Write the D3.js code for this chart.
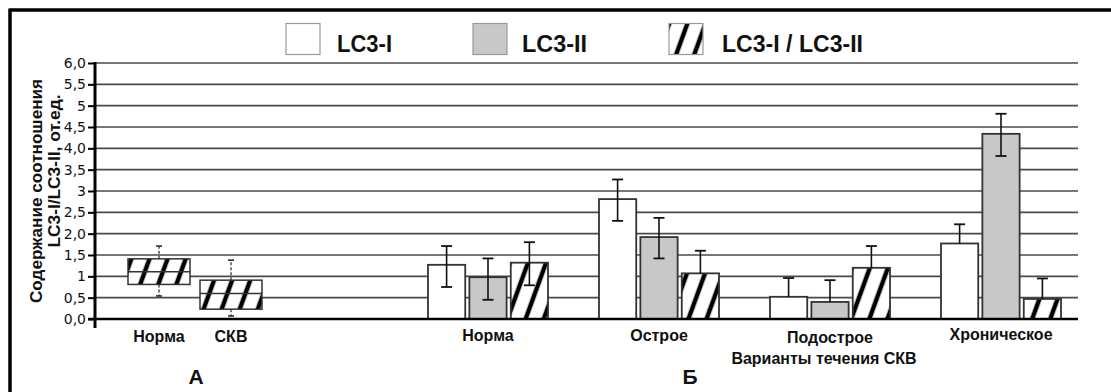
<!DOCTYPE html>
<html><head><meta charset="utf-8">
<script src="https://cdn.jsdelivr.net/npm/d3@7"></script>
<style>
html,body{margin:0;padding:0;background:#fff;}
svg{display:block;}
</style></head>
<body>
<svg id="chart" width="1111" height="392"></svg>
<script>
// ---------- DATA ----------
const yTickValues = [0, 0.5, 1, 1.5, 2, 2.5, 3, 3.5, 4, 4.5, 5, 5.5, 6];
const yTickLabels = ["0,0", "0,5", "1", "1,5", "2,0", "2,5", "3", "3,5", "4,0", "4,5", "5", "5,5", "6,0"];

// Panel A: box plots of LC3-I / LC3-II ratio
const categoriesA = ["Норма", "СКВ"];
const boxMin    = [0.54, 0.07];
const boxQ1     = [0.81, 0.23];
const boxMedian = [1.11, 0.60];
const boxQ3     = [1.41, 0.91];
const boxMax    = [1.71, 1.38];

// Panel B: bars by course of disease
const categoriesB = ["Норма", "Острое", "Подострое", "Хроническое"];
const seriesNames = ["LC3-I", "LC3-II", "LC3-I / LC3-II"];
const lc3I        = [1.27, 2.81, 0.52, 1.77];
const lc3IUp      = [0.44, 0.46, 0.44, 0.45];
const lc3IDown    = [0.52, 0.51, 0, 0];
const lc3II       = [0.98, 1.92, 0.40, 4.34];
const lc3IIUp     = [0.44, 0.45, 0.51, 0.47];
const lc3IIDown   = [0.53, 0.50, 0, 0.52];
const ratio       = [1.32, 1.07, 1.20, 0.47];
const ratioUp     = [0.48, 0.53, 0.51, 0.48];
const ratioDown   = [0.53, 0, 0, 0];

const panelALabel = "А";
const panelBLabel = "Б";
const xTitleB = "Варианты течения СКВ";
const yTitle1 = "Содержание соотношения";
const yTitle2 = "LC3-I/LC3-II, от.ед.";

// ---------- DRAW ----------
const svg = d3.select("#chart");
const fillColors = ["#ffffff", "#c8c8c8", "url(#hatch)"];

const defs = svg.append("defs");
const pat = defs.append("pattern").attr("id", "hatch")
  .attr("patternUnits", "userSpaceOnUse")
  .attr("width", 17).attr("height", 17)
  .attr("patternTransform", "rotate(20)");
pat.append("rect").attr("width", 17).attr("height", 17).attr("fill", "#fff");
pat.append("line").attr("x1", 8).attr("x2", 8).attr("y1", 0).attr("y2", 17)
  .attr("stroke", "#000").attr("stroke-width", 4.5);

// frame
svg.append("line").attr("x1", 10).attr("x2", 1111).attr("y1", 10).attr("y2", 10)
  .attr("stroke", "#000").attr("stroke-width", 3.5);
svg.append("line").attr("x1", 10).attr("x2", 10).attr("y1", 8.5).attr("y2", 392)
  .attr("stroke", "#000").attr("stroke-width", 3.5);

const y = d3.scaleLinear().domain([0, 6]).range([319, 63]);
const xLeft = 95, xRight = 1078;

// gridlines
svg.append("g").selectAll("line").data(yTickValues.filter(v => v > 0)).join("line")
  .attr("x1", xLeft).attr("x2", xRight)
  .attr("y1", d => y(d)).attr("y2", d => y(d))
  .attr("stroke", "#4a4a4a").attr("stroke-width", 1.6);

// y axis
const yAxis = d3.axisLeft(y).tickValues(yTickValues).tickSize(7).tickPadding(2)
  .tickFormat((d, i) => yTickLabels[i]);
const gy = svg.append("g").attr("transform", `translate(${xLeft},0)`).call(yAxis);
gy.select(".domain").remove();
gy.selectAll(".tick line").attr("stroke", "#000").attr("stroke-width", 2);
gy.selectAll(".tick text").attr("font-family", "DejaVu Sans, sans-serif")
  .attr("font-size", 14).attr("fill", "#111");
svg.append("line").attr("x1", xLeft).attr("x2", xLeft).attr("y1", y(6) - 1).attr("y2", 328)
  .attr("stroke", "#000").attr("stroke-width", 3);

// ---------- Panel A ----------
const xA = d3.scaleBand().domain(categoriesA).range([123, 267])
  .paddingInner(0.139).paddingOuter(0.0695);
const boxes = categoriesA.map((c, i) => ({c, min: boxMin[i], q1: boxQ1[i], med: boxMedian[i], q3: boxQ3[i], max: boxMax[i]}));
const gA = svg.append("g");
boxes.forEach(b => {
  const cx = xA(b.c) + xA.bandwidth() / 2;
  const w = xA.bandwidth();
  [[b.q3, b.max], [b.q1, b.min]].forEach(([a, e]) => {
    gA.append("line").attr("x1", cx).attr("x2", cx).attr("y1", y(a)).attr("y2", y(e))
      .attr("stroke", "#333").attr("stroke-width", 1.3).attr("stroke-dasharray", "3,2");
    gA.append("line").attr("x1", cx - 3).attr("x2", cx + 3).attr("y1", y(e)).attr("y2", y(e))
      .attr("stroke", "#222").attr("stroke-width", 1.5);
  });
  gA.append("rect").attr("x", xA(b.c)).attr("width", w)
    .attr("y", y(b.q3)).attr("height", y(b.q1) - y(b.q3))
    .attr("fill", "url(#hatch)").attr("stroke", "#333").attr("stroke-width", 1.5);
  gA.append("line").attr("x1", xA(b.c)).attr("x2", xA(b.c) + w)
    .attr("y1", y(b.med)).attr("y2", y(b.med)).attr("stroke", "#333").attr("stroke-width", 1.5);
});

// ---------- Panel B ----------
const xB = d3.scaleBand().domain(categoriesB).range([402.5, 1086.5])
  .paddingInner(0.298).paddingOuter(0.149);
const xSub = d3.scaleBand().domain(seriesNames).range([0, xB.bandwidth()]).paddingInner(0.1);
const values = [lc3I, lc3II, ratio];
const ups = [lc3IUp, lc3IIUp, ratioUp];
const downs = [lc3IDown, lc3IIDown, ratioDown];
const barData = [];
categoriesB.forEach((c, i) => seriesNames.forEach((s, j) => {
  barData.push({c, s, j, v: values[j][i], up: ups[j][i], down: downs[j][i]});
}));
const gB = svg.append("g");
gB.selectAll("rect").data(barData).join("rect")
  .attr("x", d => xB(d.c) + xSub(d.s))
  .attr("width", xSub.bandwidth())
  .attr("y", d => y(d.v))
  .attr("height", d => y(0) - y(d.v))
  .attr("fill", d => fillColors[d.j])
  .attr("stroke", "#333").attr("stroke-width", 1.8);
const gE = svg.append("g");
barData.forEach(d => {
  const cx = xB(d.c) + xSub(d.s) + xSub.bandwidth() / 2;
  gE.append("line").attr("x1", cx).attr("x2", cx)
    .attr("y1", y(d.v + d.up)).attr("y2", y(d.v - d.down))
    .attr("stroke", "#111").attr("stroke-width", 1.6);
  gE.append("line").attr("x1", cx - 5.5).attr("x2", cx + 5.5)
    .attr("y1", y(d.v + d.up)).attr("y2", y(d.v + d.up))
    .attr("stroke", "#111").attr("stroke-width", 1.8);
  if (d.down > 0) {
    gE.append("line").attr("x1", cx - 5.5).attr("x2", cx + 5.5)
      .attr("y1", y(d.v - d.down)).attr("y2", y(d.v - d.down))
      .attr("stroke", "#111").attr("stroke-width", 1.8);
  }
});

// x baseline
svg.append("line").attr("x1", 88).attr("x2", xRight).attr("y1", y(0)).attr("y2", y(0))
  .attr("stroke", "#000").attr("stroke-width", 2.5);

// category labels
const labFont = "Liberation Sans, Arial, sans-serif";
categoriesA.forEach(c => {
  svg.append("text").attr("x", xA(c) + xA.bandwidth() / 2).attr("y", 342)
    .attr("text-anchor", "middle").attr("font-family", labFont).attr("font-weight", "bold")
    .attr("font-size", 16).attr("fill", "#111").text(c);
});
const labY = {"Норма": 341, "Острое": 341, "Подострое": 343, "Хроническое": 340};
categoriesB.forEach(c => {
  svg.append("text").attr("x", xB(c) + xB.bandwidth() / 2).attr("y", labY[c])
    .attr("text-anchor", "middle").attr("font-family", labFont).attr("font-weight", "bold")
    .attr("font-size", 16).attr("fill", "#111").text(c);
});
svg.append("text").attr("x", 824).attr("y", 364).attr("text-anchor", "middle")
  .attr("font-family", labFont).attr("font-weight", "bold").attr("font-size", 16)
  .attr("fill", "#111").text(xTitleB);
svg.append("text").attr("x", 196).attr("y", 384).attr("text-anchor", "middle")
  .attr("font-family", labFont).attr("font-weight", "bold").attr("font-size", 21)
  .attr("fill", "#111").text(panelALabel);
svg.append("text").attr("x", 690).attr("y", 384).attr("text-anchor", "middle")
  .attr("font-family", labFont).attr("font-weight", "bold").attr("font-size", 21)
  .attr("fill", "#111").text(panelBLabel);

// y title
svg.append("text").attr("transform", "translate(41.5,191) rotate(-90)")
  .attr("text-anchor", "middle").attr("font-family", labFont).attr("font-weight", "bold")
  .attr("font-size", 16).attr("fill", "#111")
  .attr("textLength", 224).attr("lengthAdjust", "spacingAndGlyphs").text(yTitle1);
svg.append("text").attr("transform", "translate(60,171) rotate(-90)")
  .attr("text-anchor", "middle").attr("font-family", labFont).attr("font-weight", "bold")
  .attr("font-size", 16).attr("fill", "#111")
  .attr("textLength", 153).attr("lengthAdjust", "spacingAndGlyphs").text(yTitle2);

// legend
const legX = [286, 473, 669];
const legTextX = [337, 522, 722];
const legTextW = [55, 65, 141];
const lg = svg.append("g");
seriesNames.forEach((s, j) => {
  lg.append("rect").attr("x", legX[j]).attr("y", 23.5).attr("width", 34).attr("height", 31)
    .attr("fill", fillColors[j]).attr("stroke", "#999").attr("stroke-width", 1.2);
  lg.append("text").attr("x", legTextX[j]).attr("y", 51.5)
    .attr("font-family", "Liberation Sans Narrow, Arial Narrow, Liberation Sans, sans-serif")
    .attr("font-weight", "bold").attr("font-size", 23).attr("fill", "#111")
    .attr("textLength", legTextW[j]).attr("lengthAdjust", "spacingAndGlyphs")
    .text(s);
});
</script>
</body></html>
